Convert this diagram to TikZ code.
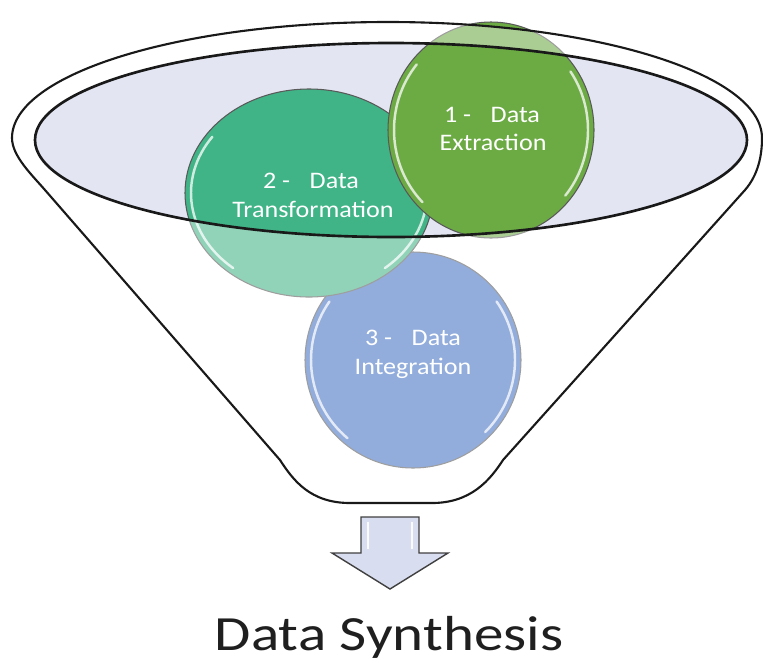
\documentclass[tikz,border=0pt]{standalone}
\usepackage{fontspec}
\setmainfont{Carlito}
\definecolor{bowl}{HTML}{E3E6F2}
\definecolor{extract}{HTML}{6CAA44}
\definecolor{transf}{HTML}{40B487}
\definecolor{integr}{HTML}{4472C4}
\definecolor{arrowfill}{HTML}{D8DDF0}
% outline of the funnel: rim on top, straight walls, flat rounded bottom
\newcommand\funnelshape{(280,460) -- (45,190)
  .. controls (32,175) and (12,156) .. (12,138)
  arc[start angle=180, end angle=270, x radius=376, y radius=116]
  arc[start angle=270, end angle=360, x radius=374, y radius=116]
  .. controls (762,156) and (758,175) .. (745,190)
  -- (503,460) .. controls (490,480) and (471,503) .. (432,503)
  -- (350,503) .. controls (310,503) and (293,480) .. (280,460) -- cycle}
\newcommand\openingshape{(391,140) ellipse [x radius=356, y radius=97]}
\begin{document}
\begin{tikzpicture}[x=0.02cm,y=-0.02cm,
  bubble/.style={draw=black!65, line width=0.6pt},
  gloss/.style={draw=white, line width=1.4pt, opacity=0.75, line cap=round},
  bubbletext/.style={text=white, font=\fontsize{13.5}{16}\selectfont, anchor=base, inner sep=0pt},
  rim/.style={draw=black!90, line width=1.2pt}]
\useasboundingbox (0,0) rectangle (763,660);

% opening of the funnel
\fill[bowl] \openingshape;

% the three stages
\path[bubble, fill=integr] (413,360) ellipse [x radius=108, y radius=108];
\draw[gloss] (413,360) ++(130:102 and 102) arc[start angle=130, end angle=215, x radius=102, y radius=102];
\draw[gloss] (413,360) ++(-35:102 and 102) arc[start angle=-35, end angle=45, x radius=102, y radius=102];

\path[bubble, fill=transf] (309,193) ellipse [x radius=124, y radius=104];
\draw[gloss] (309,193) ++(130:118 and 98) arc[start angle=130, end angle=215, x radius=118, y radius=98];
\draw[gloss] (309,193) ++(-10:118 and 98) arc[start angle=-10, end angle=50, x radius=118, y radius=98];

\path[bubble, fill=extract] (491,130) ellipse [x radius=103, y radius=108];
\draw[gloss] (491,130) ++(135:97 and 102) arc[start angle=135, end angle=220, x radius=97, y radius=102];
\draw[gloss] (491,130) ++(-35:97 and 102) arc[start angle=-35, end angle=40, x radius=97, y radius=102];

% translucent funnel body over the stages
\fill[white, opacity=0.42, even odd rule] \funnelshape \openingshape;

% stage labels
\node[bubbletext] (extractionA) at (492,122) {\scalebox{1.1}[1]{1 -\hspace{0.75em}Data}};
\node[bubbletext] (extractionB) at (493,150) {\scalebox{1.1}[1]{Extraction}};
\node[bubbletext] (transformationA) at (311,188) {\scalebox{1.1}[1]{2 -\hspace{0.75em}Data}};
\node[bubbletext] (transformationB) at (313,217) {\scalebox{1.1}[1]{Transformation}};
\node[bubbletext] (integrationA) at (413,345) {\scalebox{1.1}[1]{3 -\hspace{0.75em}Data}};
\node[bubbletext] (integrationB) at (413,374) {\scalebox{1.1}[1]{Integration}};

% funnel outlines
\draw[rim] \funnelshape;
\draw[draw=black!90, line width=1.5pt] \openingshape;

% output arrow
\draw[fill=arrowfill, draw=black!75, line width=0.8pt, line join=miter]
  (361,517) -- (419,517) -- (419,553) -- (448,553) -- (390,589)
  -- (332,553) -- (361,553) -- cycle;
\draw[white, line width=1.6pt, opacity=0.9] (368,522) -- (368,549);
\draw[white, line width=1.6pt, opacity=0.9] (412,522) -- (412,549);

\node[font=\fontsize{28}{32}\selectfont, text=black!88, inner sep=0pt, anchor=base] (synthesis) at (389,650) {\scalebox{1.2}[1]{Data Synthesis}};
\end{tikzpicture}
\end{document}
